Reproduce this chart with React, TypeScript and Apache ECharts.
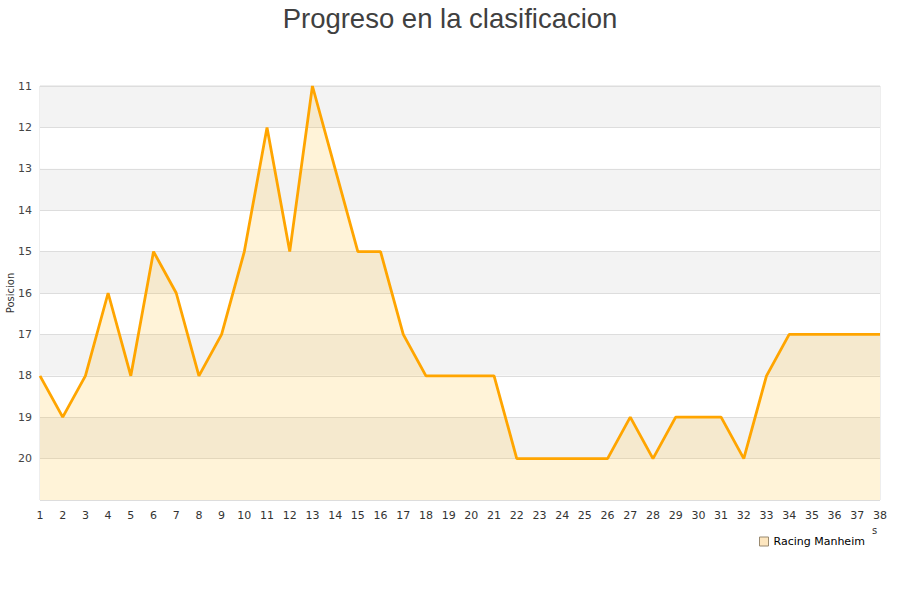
import React, { useEffect, useRef } from "react";
import * as echarts from "echarts";

const jornadas = Array.from({ length: 38 }, (_, i) => String(i + 1));
const posiciones = [18, 19, 18, 16, 18, 15, 16, 18, 17, 15, 12, 15, 11, 13, 15, 15, 17, 18, 18, 18, 18, 20, 20, 20, 20, 20, 19, 20, 19, 19, 19, 20, 18, 17, 17, 17, 17, 17];
const equipo = "Racing Manheim";

export default function App() {
  const ref = useRef<HTMLDivElement>(null);
  useEffect(() => {
    if (!ref.current) return;
    const chart = echarts.init(ref.current, undefined, { renderer: "svg" });
    chart.setOption({
      animation: false,
      title: {
        text: "Progreso en la clasificacion",
        left: "center",
        top: -1,
        textStyle: { fontFamily: "Liberation Sans", fontSize: 27.5, fontWeight: "normal", color: "#404040" },
      },
      grid: {
        left: 40,
        right: 20,
        top: 86,
        bottom: 100,
        outerBoundsMode: "none",
        containLabel: false,
        show: true,
        borderColor: "#dddddd",
        borderWidth: 1,
      },
      legend: {
        data: [equipo],
        left: 754,
        top: 531,
        icon: "rect",
        itemWidth: 9,
        itemHeight: 9,
        itemGap: 10,
        itemStyle: { color: "#fde6bf", borderColor: "#9a8a70", borderWidth: 1 },
        textStyle: { fontFamily: "DejaVu Sans", fontSize: 11, color: "#000" },
      },
      xAxis: {
        type: "category",
        data: jornadas,
        boundaryGap: false,
        axisLine: { show: false },
        axisTick: { show: false },
        axisLabel: { color: "#333", fontFamily: "DejaVu Sans", fontSize: 11, margin: 10, interval: 0 },
        splitLine: { show: false },
      },
      yAxis: {
        type: "value",
        inverse: true,
        min: 11,
        max: 21,
        interval: 1,
        name: "Posicion",
        nameLocation: "middle",
        nameGap: 25,
        nameMoveOverlap: false,
        nameTextStyle: { fontFamily: "DejaVu Sans", fontSize: 10, color: "#333" },
        axisLine: { show: false },
        axisTick: { show: false },
        axisLabel: {
          color: "#444",
          fontFamily: "DejaVu Sans",
          fontSize: 11,
          margin: 8,
          formatter: (v: number) => (v === 21 ? "" : String(v)),
        },
        splitLine: { show: true, lineStyle: { color: "#dddddd" } },
        splitArea: { show: true, areaStyle: { color: ["#f3f3f3", "#ffffff"] } },
      },
      graphic: [
        { type: "text", left: 872, top: 525, style: { text: "s", fontFamily: "DejaVu Sans", fontSize: 10, fill: "#333" } },
      ],
      series: [
        {
          name: equipo,
          type: "line",
          data: posiciones,
          symbol: "none",
          lineStyle: { color: "#ffa500", width: 2.8 },
          itemStyle: { color: "#ffa500" },
          areaStyle: { color: "rgba(255,190,50,0.27)", origin: "end" },
        },
      ],
    });
    return () => chart.dispose();
  }, []);
  return <div ref={ref} style={{ position: "absolute", left: 0, top: 0, width: 900, height: 600 }} />;
}
